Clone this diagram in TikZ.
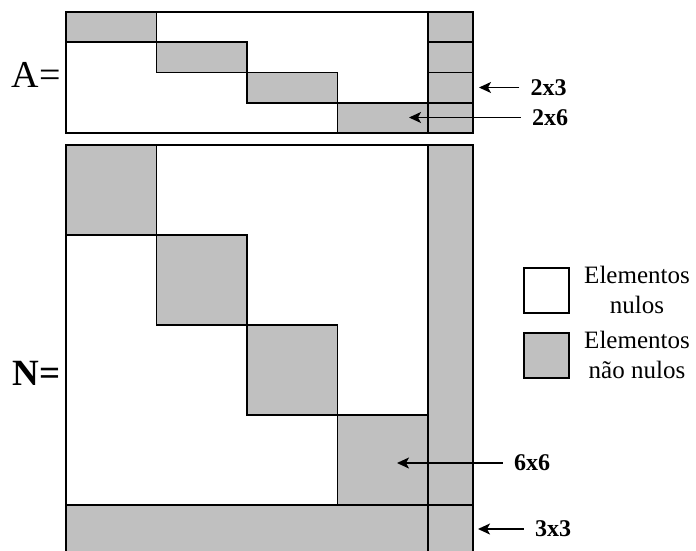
\documentclass[tikz,border=0pt]{standalone}
\usepackage{fontspec}
\setmainfont{Liberation Serif}
\usetikzlibrary{arrows.meta,positioning}
\definecolor{nz}{HTML}{C0C0C0}

\begin{document}
\begin{tikzpicture}[x=1pt,y=-1pt,>={Stealth[length=12pt,width=11pt,inset=3pt]},
 frame/.style={draw,line width=1.7pt},
 blk/.style={draw,line width=1.7pt,fill=nz},
 dim/.style={font=\fontsize{24}{24}\selectfont\bfseries,inner sep=0pt},
 arr/.style={->,line width=1.6pt,shorten <=11pt},
 legtxt/.style={font=\fontsize{25}{30}\selectfont,align=center,inner sep=0pt}]
\useasboundingbox (0,0) rectangle (696,550);
% matriz A
\draw[frame] (66,12) rectangle (473,133);
\foreach \i in {0,...,3}{
  \draw[blk] ({66+90.5*\i},{12+30.25*\i}) rectangle ++(90.5,30.25);
  \draw[blk] (428,{12+30.25*\i}) rectangle ++(45,30.25);
}
\node[font=\fontsize{38}{38}\selectfont,anchor=base east,inner sep=0pt] (lblA) at (61,87) {A=};
% matriz N
\draw[frame] (66,145) rectangle (473,552);
\foreach \i in {0,...,3}
  \draw[blk] ({66+90.5*\i},{145+90*\i}) rectangle ++(90.5,90);
\draw[blk] (428,145) rectangle (473,505);
\draw[blk] (66,505) rectangle (428,552);
\draw[blk] (428,505) rectangle (473,552);
\node[font=\fontsize{37}{37}\selectfont\bfseries,anchor=base east,inner sep=0pt] (lblN) at (61,385) {N=};
% dimensoes
\node[dim] (d23) at (548.5,87.5) {2x3};
\coordinate (t23) at (479,87.5);
\node[dim] (d26) at (550,117.5) {2x6};
\coordinate (t26) at (409,117.5);
\node[dim] (d66) at (532,463) {6x6};
\coordinate (t66) at (397,463);
\node[dim] (d33) at (553,529) {3x3};
\coordinate (t33) at (478,529);
\draw[arr] (d23)--(t23);
\draw[arr] (d26)--(t26);
\draw[arr] (d66)--(t66);
\draw[arr] (d33)--(t33);
% legenda
\node[draw,line width=1.7pt,fill=white,minimum size=45pt,inner sep=0pt] (nulo) at (546.5,290.5) {};
\node[draw,line width=1.7pt,fill=nz,minimum size=45pt,inner sep=0pt] (naonulo) at (546.5,355.5) {};
\node[legtxt,anchor=base] (tnulo) at (637,313) {Elementos\\nulos};
\node[legtxt,anchor=base] (tnaonulo) at (637,378) {Elementos\\não nulos};
\end{tikzpicture}
\end{document}
